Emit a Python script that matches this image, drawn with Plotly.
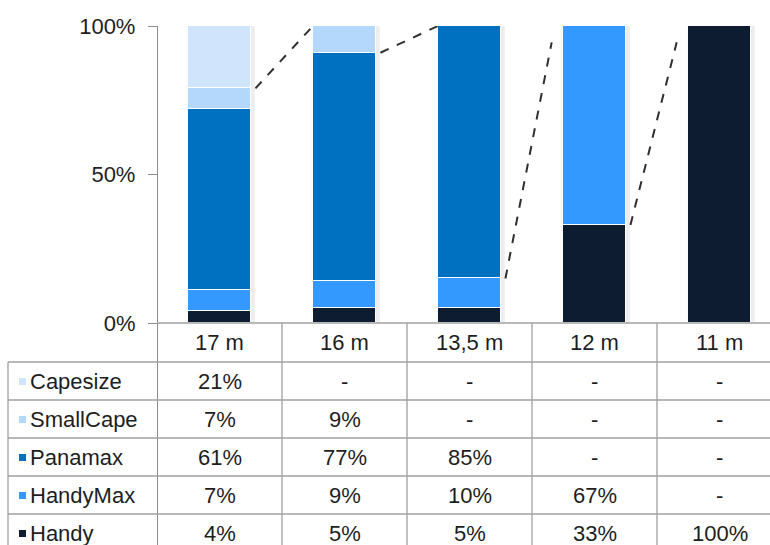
import plotly.graph_objects as go

# ---------------- data ----------------
categories = ["17 m", "16 m", "13,5 m", "12 m", "11 m"]
series_names = ["Capesize", "SmallCape", "Panamax", "HandyMax", "Handy"]
capesize = [21, 0, 0, 0, 0]
smallcape = [7, 9, 0, 0, 0]
panamax = [61, 77, 85, 0, 0]
handymax = [7, 9, 10, 67, 0]
handy = [4, 5, 5, 33, 100]
y_tick_vals = [0, 0.5, 1]
y_tick_text = ["0%", "50%", "100%"]

series_values = [capesize, smallcape, panamax, handymax, handy]
colors = ["#d0e4fb", "#b4d8fc", "#0070c0", "#3399ff", "#0e1c32"]

# ---------------- geometry (pixels of a 770x545 page) ----------------
W, H = 770, 545
AX_X = 157          # y axis position
CAT_W = 125.0       # category width in px
Y0_PX, Y1_PX = 323, 26  # pixel rows of 0% and 100%
UNIT = Y0_PX - Y1_PX
BAR_W = 0.505

def px_to_x(px):
    return -0.5 + (px - AX_X) / CAT_W

def py_to_y(py):
    return (Y0_PX - py) / UNIT

x_range = [px_to_x(0), px_to_x(W)]
y_range = [py_to_y(H), 1.0]
y_domain_top = 1 - Y1_PX / H

FONT = "Liberation Sans, Arial, sans-serif"
FS = 22
TXT = "#1e1e1e"
GRID = "#a0a0a0"

fig = go.Figure()
xs = list(range(len(categories)))

shapes = []
annotations = []

# faint drop shadow behind each bar
for i in xs:
    total = sum(s[i] for s in series_values) / 100
    shapes.append(dict(type="rect", xref="x", yref="y", layer="below",
                       x0=i - BAR_W / 2 - 0.01, x1=i + BAR_W / 2 + 0.03,
                       y0=0, y1=total + 0.008,
                       fillcolor="rgba(0,0,0,0.07)", line=dict(width=0)))

# stacked bars, bottom -> top
for name, vals, col in reversed(list(zip(series_names, series_values, colors))):
    fig.add_trace(go.Bar(
        x=xs, y=[v / 100 for v in vals], name=name, width=BAR_W,
        marker=dict(color=col, line=dict(color="white", width=1)),
        showlegend=False, hoverinfo="skip"))

# dashed connector lines: top of the part that survives in the next bar -> top of next bar
for i in range(len(categories) - 1):
    surviving = sum(series_values[k][i] for k in range(len(series_names))
                    if series_values[k][i + 1] > 0) / 100
    x_start = i + BAR_W / 2 + 0.035
    steep = surviving < 0.5
    x_end = i + 1 - BAR_W / 2 - (0.09 if steep else 0.0)
    y_end = 0.945 if steep else 1.0
    fig.add_trace(go.Scatter(
        x=[x_start, x_end], y=[surviving, y_end], mode="lines",
        line=dict(color="#2f2f2f", width=2, dash="dash"),
        showlegend=False, hoverinfo="skip"))

right_x = x_range[1] + 0.2
left_x = px_to_x(8)

# table: header top line (continues the 0% baseline)
shapes.append(dict(type="line", xref="x", yref="y", x0=-0.5, x1=right_x,
                   y0=0, y1=0, line=dict(color=GRID, width=1.3)))
# category separators
for i in range(len(categories)):
    shapes.append(dict(type="line", xref="x", yref="y", x0=i + 0.5, x1=i + 0.5,
                       y0=0.0, y1=y_range[0] - 0.1, line=dict(color=GRID, width=1.3)))
# rows
header_bottom_px = 362
row_h_px = 38
for r in range(len(series_names) + 1):
    y = py_to_y(header_bottom_px + r * row_h_px)
    shapes.append(dict(type="line", xref="x", yref="y", x0=left_x, x1=right_x,
                       y0=y, y1=y, line=dict(color=GRID, width=1.3)))
shapes.append(dict(type="line", xref="x", yref="y", x0=left_x, x1=left_x,
                   y0=py_to_y(header_bottom_px), y1=y_range[0] - 0.1,
                   line=dict(color=GRID, width=1.3)))

# header labels
for i, c in enumerate(categories):
    annotations.append(dict(x=i, y=py_to_y(342), xref="x", yref="y", text=c,
                            showarrow=False, font=dict(family=FONT, size=FS, color=TXT)))

# row labels, swatches and values
for r, (name, vals, col) in enumerate(zip(series_names, series_values, colors)):
    cy_px = header_bottom_px + row_h_px * (r + 0.5)
    cy = py_to_y(cy_px)
    shapes.append(dict(type="rect", xref="x", yref="y",
                       x0=px_to_x(19), x1=px_to_x(26),
                       y0=py_to_y(cy_px + 4), y1=py_to_y(cy_px - 3),
                       fillcolor=col, line=dict(width=0)))
    annotations.append(dict(x=px_to_x(28), y=cy, xref="x", yref="y", text=name,
                            xanchor="left", showarrow=False,
                            font=dict(family=FONT, size=FS, color=TXT)))
    for i, v in enumerate(vals):
        annotations.append(dict(x=i, y=cy, xref="x", yref="y",
                                text=f"{v}%" if v > 0 else "-", showarrow=False,
                                font=dict(family=FONT, size=FS, color=TXT)))

fig.update_layout(
    width=W, height=H, barmode="stack", bargap=0,
    margin=dict(l=0, r=0, t=0, b=0, autoexpand=False),
    plot_bgcolor="white", paper_bgcolor="white",
    shapes=shapes, annotations=annotations,
    xaxis=dict(domain=[0, 1], range=x_range, showgrid=False, zeroline=False,
               showticklabels=False, showline=False, ticks="", automargin=False),
    yaxis=dict(domain=[0, y_domain_top], range=y_range, anchor="free",
               position=AX_X / W, tickvals=y_tick_vals, ticktext=y_tick_text,
               ticks="outside", ticklen=9, tickcolor="#8c8c8c", tickwidth=1.3,
               showline=True, linecolor="#8c8c8c", linewidth=1.3,
               showgrid=False, zeroline=False, ticklabelstandoff=8,
               automargin=False,
               tickfont=dict(family=FONT, size=FS, color=TXT)),
)

fig.write_html("out.html", config={"displayModeBar": False},
               post_script="document.body.style.margin='0';document.body.style.overflow='hidden';")
